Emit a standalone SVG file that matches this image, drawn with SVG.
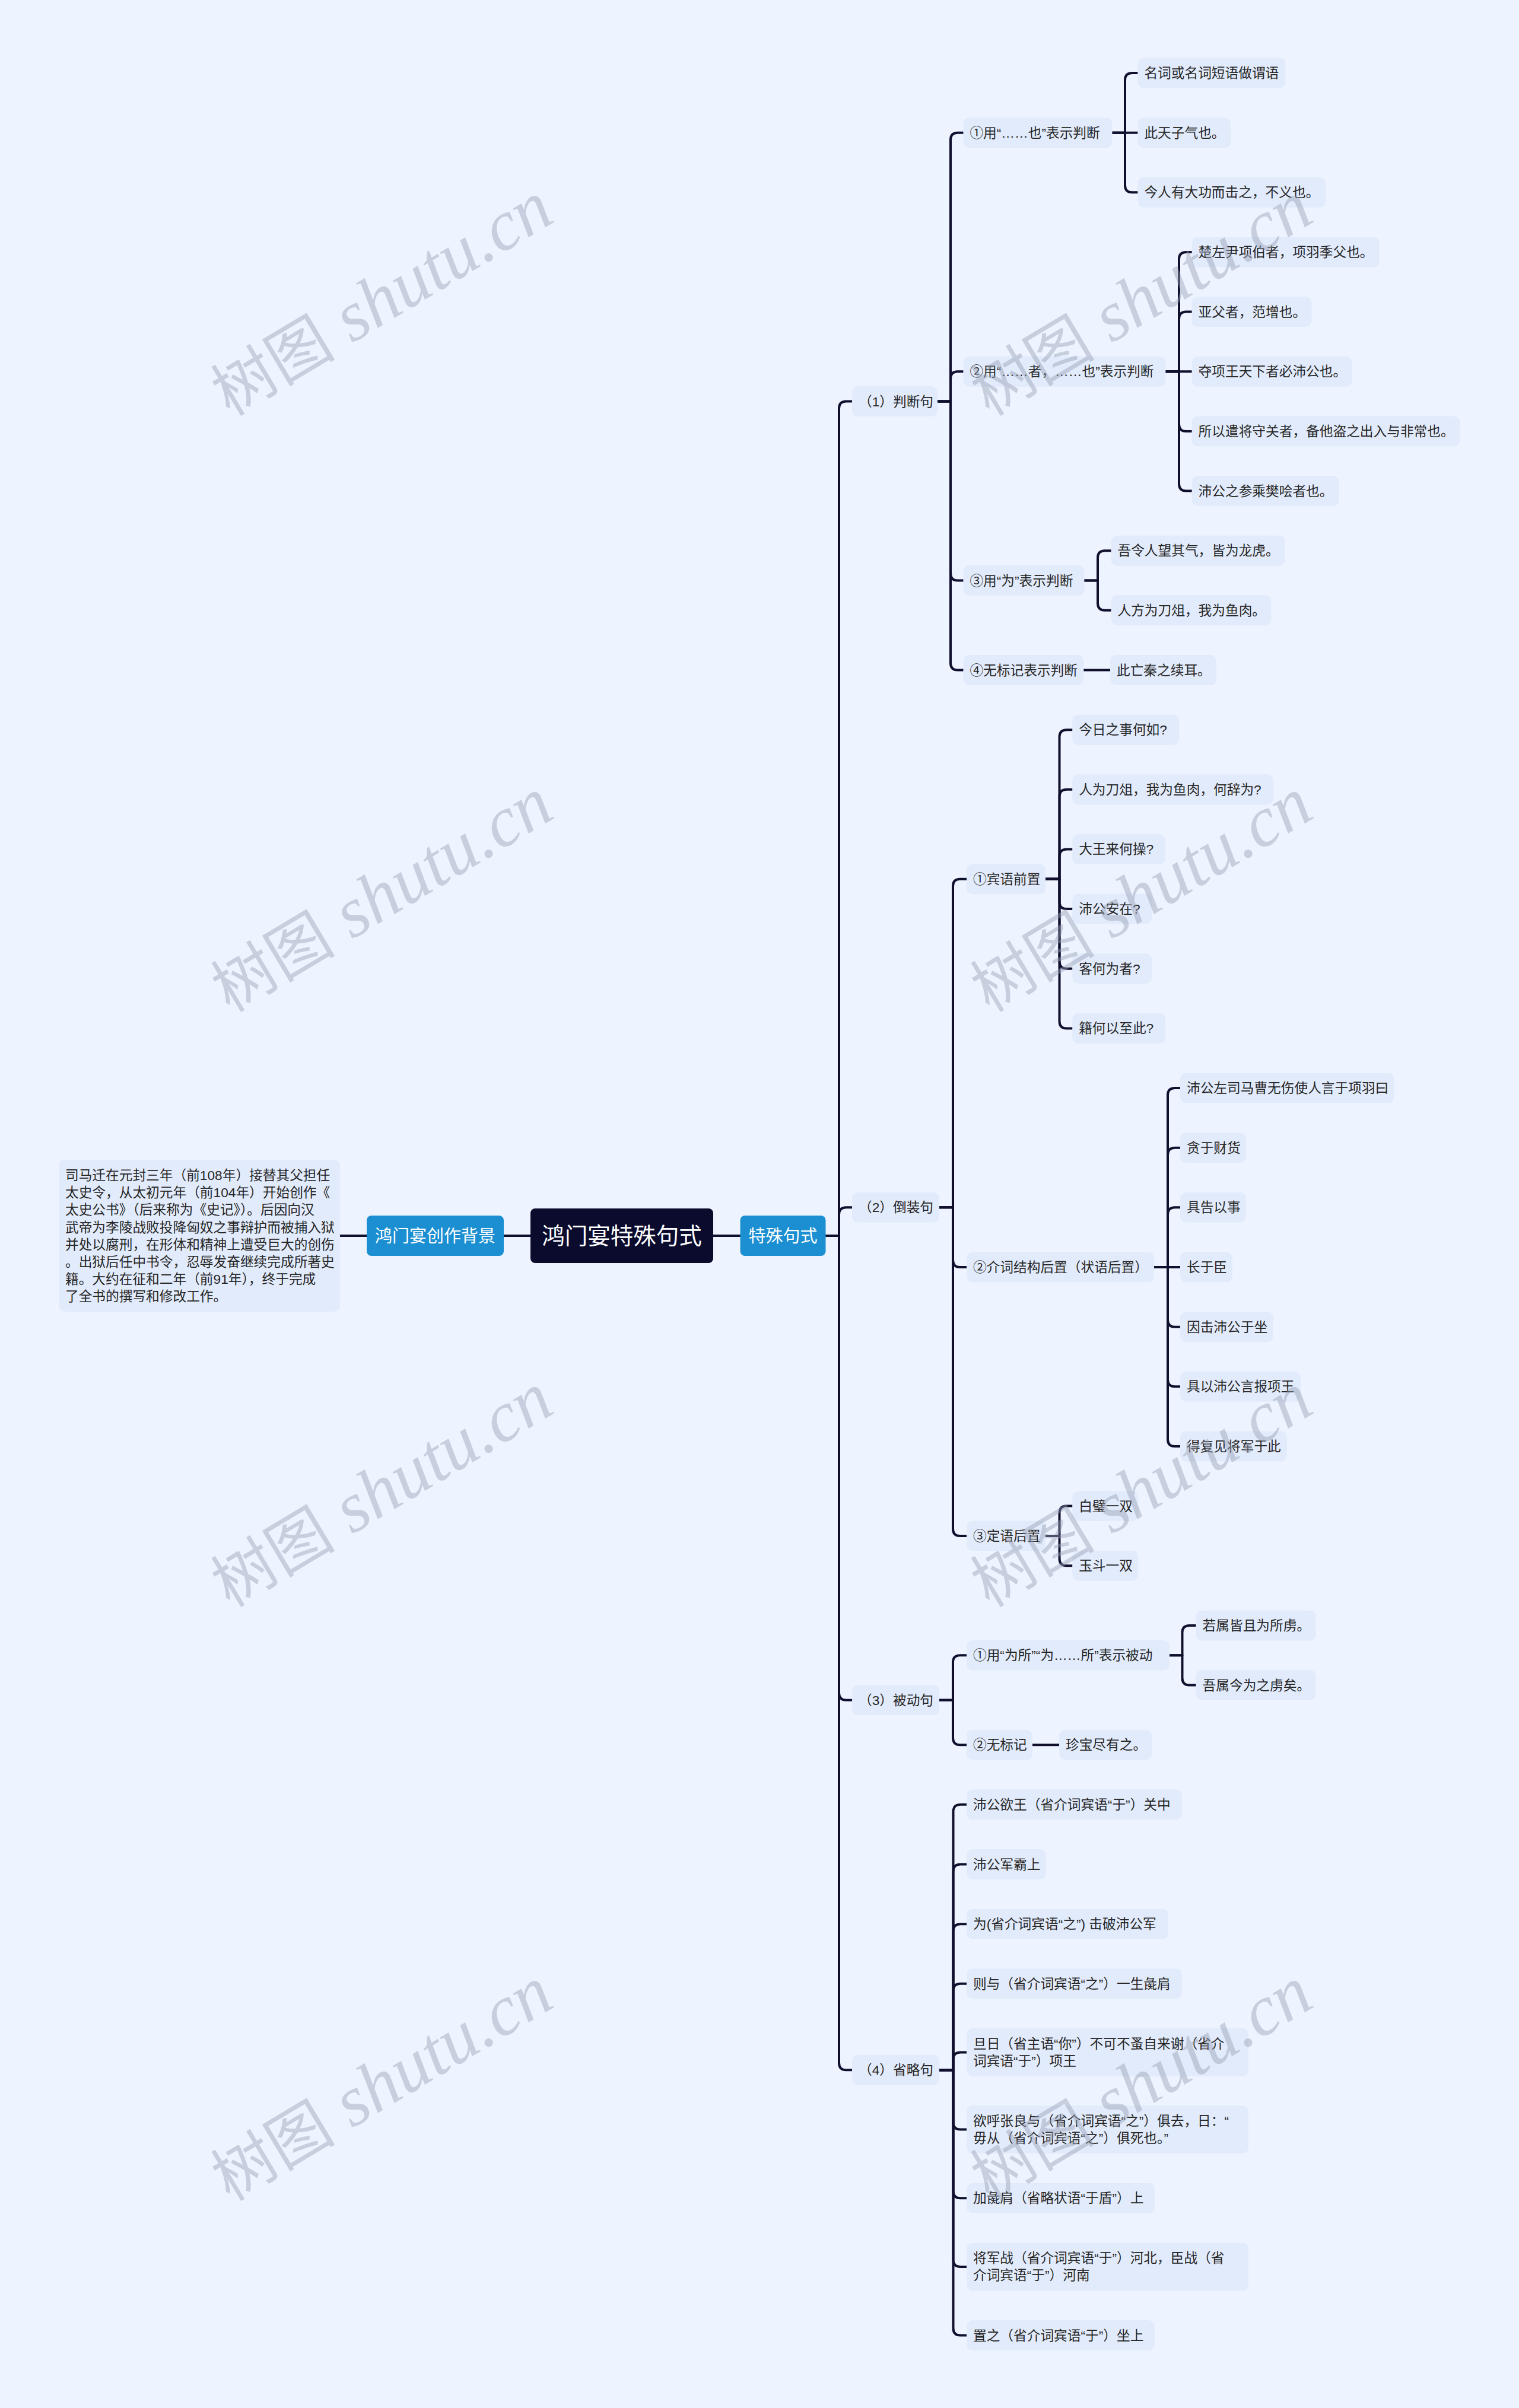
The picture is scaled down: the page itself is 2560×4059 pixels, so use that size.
<svg xmlns="http://www.w3.org/2000/svg" width="2560" height="4059" viewBox="0 0 2560 4059">
<style>
.bgc{fill:#eef4ff}
.box{fill:#e2ebfb}
.blue{fill:#1b8fd2}
.root{fill:#0b0b2e}
.t{font-family:"Liberation Sans","Noto Sans CJK SC",sans-serif;font-size:22.7px;fill:#262626}
.tw{font-family:"Liberation Sans","Noto Sans CJK SC",sans-serif;font-size:29px;fill:#ffffff;text-anchor:middle}
.tr{font-family:"Liberation Sans","Noto Sans CJK SC",sans-serif;font-size:38.5px;fill:#ffffff;text-anchor:middle}
.ln{fill:none;stroke:#10102e;stroke-width:4;stroke-linecap:round;stroke-linejoin:round}
.wm{font-family:"Liberation Serif",serif;font-style:italic;font-size:120px;fill:#96a0b4;fill-opacity:0.45;text-anchor:middle}
.wmc{font-family:"Noto Sans CJK SC",sans-serif;font-style:normal;font-size:105px}
</style>
<rect class="bgc" x="0" y="0" width="2560" height="4059"/>
<g id="connectors">
<path class="ln" d="M573 2083H618"/>
<path class="ln" d="M849 2083H894"/>
<path class="ln" d="M1202 2083H1247.5"/>
<path class="ln" d="M1391.5 2083H1414V688.6Q1414 676.6 1426 676.6H1436"/>
<path class="ln" d="M1391.5 2083H1414V2047.35Q1414 2035.35 1426 2035.35H1436"/>
<path class="ln" d="M1391.5 2083H1414V2853.7Q1414 2865.7 1426 2865.7H1436"/>
<path class="ln" d="M1391.5 2083H1414V3477.2Q1414 3489.2 1426 3489.2H1436"/>
<path class="ln" d="M1580 676.6H1602V235.65Q1602 223.65 1614 223.65H1623.4"/>
<path class="ln" d="M1580 676.6H1602V638.25Q1602 626.25 1614 626.25H1623.4"/>
<path class="ln" d="M1580 676.6H1602V966.5Q1602 978.5 1614 978.5H1623.4"/>
<path class="ln" d="M1580 676.6H1602V1117.5Q1602 1129.5 1614 1129.5H1623.4"/>
<path class="ln" d="M1874.4 223.65H1896V135Q1896 123 1908 123H1917.4"/>
<path class="ln" d="M1874.4 223.65H1917.4"/>
<path class="ln" d="M1874.4 223.65H1896V312.3Q1896 324.3 1908 324.3H1917.4"/>
<path class="ln" d="M1964.4 626.25H1987V436.95Q1987 424.95 1999 424.95H2008.6"/>
<path class="ln" d="M1964.4 626.25H1987V537.6Q1987 525.6 1999 525.6H2008.6"/>
<path class="ln" d="M1964.4 626.25H2008.6"/>
<path class="ln" d="M1964.4 626.25H1987V714.9Q1987 726.9 1999 726.9H2008.6"/>
<path class="ln" d="M1964.4 626.25H1987V815.55Q1987 827.55 1999 827.55H2008.6"/>
<path class="ln" d="M1827.4 978.5H1850V940.2Q1850 928.2 1862 928.2H1872.5"/>
<path class="ln" d="M1827.4 978.5H1850V1016.85Q1850 1028.85 1862 1028.85H1872.5"/>
<path class="ln" d="M1826.4 1129.5H1871"/>
<path class="ln" d="M1583 2035.35H1606V1493.8Q1606 1481.8 1618 1481.8H1629"/>
<path class="ln" d="M1583 2035.35H1606V2124Q1606 2136 1618 2136H1629"/>
<path class="ln" d="M1583 2035.35H1606V2576.9Q1606 2588.9 1618 2588.9H1629"/>
<path class="ln" d="M1762 1481.8H1785.5V1242.15Q1785.5 1230.15 1797.5 1230.15H1807.2"/>
<path class="ln" d="M1762 1481.8H1785.5V1342.8Q1785.5 1330.8 1797.5 1330.8H1807.2"/>
<path class="ln" d="M1762 1481.8H1785.5V1443.45Q1785.5 1431.45 1797.5 1431.45H1807.2"/>
<path class="ln" d="M1762 1481.8H1785.5V1520.1Q1785.5 1532.1 1797.5 1532.1H1807.2"/>
<path class="ln" d="M1762 1481.8H1785.5V1620.75Q1785.5 1632.75 1797.5 1632.75H1807.2"/>
<path class="ln" d="M1762 1481.8H1785.5V1721.4Q1785.5 1733.4 1797.5 1733.4H1807.2"/>
<path class="ln" d="M1945 2136H1968V1846.05Q1968 1834.05 1980 1834.05H1989"/>
<path class="ln" d="M1945 2136H1968V1946.7Q1968 1934.7 1980 1934.7H1989"/>
<path class="ln" d="M1945 2136H1968V2047.35Q1968 2035.35 1980 2035.35H1989"/>
<path class="ln" d="M1945 2136H1989"/>
<path class="ln" d="M1945 2136H1968V2224.65Q1968 2236.65 1980 2236.65H1989"/>
<path class="ln" d="M1945 2136H1968V2325.3Q1968 2337.3 1980 2337.3H1989"/>
<path class="ln" d="M1945 2136H1968V2425.95Q1968 2437.95 1980 2437.95H1989"/>
<path class="ln" d="M1762 2588.9H1785.5V2550.6Q1785.5 2538.6 1797.5 2538.6H1807.2"/>
<path class="ln" d="M1762 2588.9H1785.5V2627.25Q1785.5 2639.25 1797.5 2639.25H1807.2"/>
<path class="ln" d="M1583 2865.7H1606V2802.2Q1606 2790.2 1618 2790.2H1629"/>
<path class="ln" d="M1583 2865.7H1606V2929.2Q1606 2941.2 1618 2941.2H1629"/>
<path class="ln" d="M1971 2790.2H1992.5V2751.9Q1992.5 2739.9 2004.5 2739.9H2015.6"/>
<path class="ln" d="M1971 2790.2H1992.5V2828.55Q1992.5 2840.55 2004.5 2840.55H2015.6"/>
<path class="ln" d="M1740 2941.2H1785"/>
<path class="ln" d="M1583 3489.2H1606.5V3053.85Q1606.5 3041.85 1618.5 3041.85H1629"/>
<path class="ln" d="M1583 3489.2H1606.5V3154.5Q1606.5 3142.5 1618.5 3142.5H1629"/>
<path class="ln" d="M1583 3489.2H1606.5V3255.15Q1606.5 3243.15 1618.5 3243.15H1629"/>
<path class="ln" d="M1583 3489.2H1606.5V3355.8Q1606.5 3343.8 1618.5 3343.8H1629"/>
<path class="ln" d="M1583 3489.2H1606.5V3471.45Q1606.5 3459.45 1618.5 3459.45H1629"/>
<path class="ln" d="M1583 3489.2H1606.5V3577.6Q1606.5 3589.6 1618.5 3589.6H1629"/>
<path class="ln" d="M1583 3489.2H1606.5V3693.25Q1606.5 3705.25 1618.5 3705.25H1629"/>
<path class="ln" d="M1583 3489.2H1606.5V3808.9Q1606.5 3820.9 1618.5 3820.9H1629"/>
<path class="ln" d="M1583 3489.2H1606.5V3924.5Q1606.5 3936.5 1618.5 3936.5H1629"/>
</g>
<g id="root"><rect class="root" x="894" y="2037" width="308" height="92" rx="8"/><text class="tr" x="1048" y="2097">鸿门宴特殊句式</text></g>
<g id="bg-title"><rect class="blue" x="618" y="2049" width="231" height="68" rx="8"/><text class="tw" x="733.5" y="2094">鸿门宴创作背景</text></g>
<g id="bg-text"><rect class="box" x="99" y="1955" width="474" height="256" rx="10"/>
<text class="t"><tspan x="110" y="1989">司马迁在元封三年（前108年）接替其父担任</tspan><tspan x="110" y="2018.2">太史令，从太初元年（前104年）开始创作《</tspan><tspan x="110" y="2047.4">太史公书》（后来称为《史记》）。后因向汉</tspan><tspan x="110" y="2076.6">武帝为李陵战败投降匈奴之事辩护而被捕入狱</tspan><tspan x="110" y="2105.8">并处以腐刑，在形体和精神上遭受巨大的创伤</tspan><tspan x="110" y="2135">。出狱后任中书令，忍辱发奋继续完成所著史</tspan><tspan x="110" y="2164.2">籍。大约在征和二年（前91年），终于完成</tspan><tspan x="110" y="2193.4">了全书的撰写和修改工作。</tspan></text></g>
<g id="tsjs"><rect class="blue" x="1247.5" y="2049" width="144" height="68" rx="8"/><text class="tw" x="1319.5" y="2094">特殊句式</text></g>
<g id="l1-1"><rect class="box" x="1436" y="651.1" width="144" height="51" rx="10"/><text class="t" x="1447" y="684.6">（1）判断句</text></g>
<g id="l1-2"><rect class="box" x="1436" y="2009.85" width="147" height="51" rx="10"/><text class="t" x="1447" y="2043.35">（2）倒装句</text></g>
<g id="l1-3"><rect class="box" x="1436" y="2840.2" width="147" height="51" rx="10"/><text class="t" x="1447" y="2873.7">（3）被动句</text></g>
<g id="l1-4"><rect class="box" x="1436" y="3463.7" width="147" height="51" rx="10"/><text class="t" x="1447" y="3497.2">（4）省略句</text></g>
<g id="a1"><rect class="box" x="1623.4" y="198.15" width="251" height="51" rx="10"/><text class="t" x="1634.4" y="231.65">①用“……也”表示判断</text></g>
<g id="a2"><rect class="box" x="1623.4" y="600.75" width="341" height="51" rx="10"/><text class="t" x="1634.4" y="634.25">②用“……者，……也”表示判断</text></g>
<g id="a3"><rect class="box" x="1623.4" y="953" width="204" height="51" rx="10"/><text class="t" x="1634.4" y="986.5">③用“为”表示判断</text></g>
<g id="a4"><rect class="box" x="1623.4" y="1104" width="203" height="51" rx="10"/><text class="t" x="1634.4" y="1137.5">④无标记表示判断</text></g>
<g id="k0"><rect class="box" x="1917.4" y="97.5" width="249" height="51" rx="10"/><text class="t" x="1928.4" y="131">名词或名词短语做谓语</text></g>
<g id="k1"><rect class="box" x="1917.4" y="198.15" width="157" height="51" rx="10"/><text class="t" x="1928.4" y="231.65">此天子气也。</text></g>
<g id="k2"><rect class="box" x="1917.4" y="298.8" width="317" height="51" rx="10"/><text class="t" x="1928.4" y="332.3">今人有大功而击之，不义也。</text></g>
<g id="k3"><rect class="box" x="2008.6" y="399.45" width="316" height="51" rx="10"/><text class="t" x="2019.6" y="432.95">楚左尹项伯者，项羽季父也。</text></g>
<g id="k4"><rect class="box" x="2008.6" y="500.1" width="202" height="51" rx="10"/><text class="t" x="2019.6" y="533.6">亚父者，范增也。</text></g>
<g id="k5"><rect class="box" x="2008.6" y="600.75" width="270" height="51" rx="10"/><text class="t" x="2019.6" y="634.25">夺项王天下者必沛公也。</text></g>
<g id="k6"><rect class="box" x="2008.6" y="701.4" width="452" height="51" rx="10"/><text class="t" x="2019.6" y="734.9">所以遣将守关者，备他盗之出入与非常也。</text></g>
<g id="k7"><rect class="box" x="2008.6" y="802.05" width="248" height="51" rx="10"/><text class="t" x="2019.6" y="835.55">沛公之参乘樊哙者也。</text></g>
<g id="k8"><rect class="box" x="1872.5" y="902.7" width="293" height="51" rx="10"/><text class="t" x="1883.5" y="936.2">吾令人望其气，皆为龙虎。</text></g>
<g id="k9"><rect class="box" x="1872.5" y="1003.35" width="270" height="51" rx="10"/><text class="t" x="1883.5" y="1036.85">人方为刀俎，我为鱼肉。</text></g>
<g id="k10"><rect class="box" x="1871" y="1104" width="179" height="51" rx="10"/><text class="t" x="1882" y="1137.5">此亡秦之续耳。</text></g>
<g id="b1"><rect class="box" x="1629" y="1456.3" width="133" height="51" rx="10"/><text class="t" x="1640" y="1489.8">①宾语前置</text></g>
<g id="b2"><rect class="box" x="1629" y="2110.5" width="316" height="51" rx="10"/><text class="t" x="1640" y="2144">②介词结构后置（状语后置）</text></g>
<g id="b3"><rect class="box" x="1629" y="2563.4" width="133" height="51" rx="10"/><text class="t" x="1640" y="2596.9">③定语后置</text></g>
<g id="k11"><rect class="box" x="1807.2" y="1204.65" width="180" height="51" rx="10"/><text class="t" x="1818.2" y="1238.15">今日之事何如?</text></g>
<g id="k12"><rect class="box" x="1807.2" y="1305.3" width="339" height="51" rx="10"/><text class="t" x="1818.2" y="1338.8">人为刀俎，我为鱼肉，何辞为?</text></g>
<g id="k13"><rect class="box" x="1807.2" y="1405.95" width="157" height="51" rx="10"/><text class="t" x="1818.2" y="1439.45">大王来何操?</text></g>
<g id="k14"><rect class="box" x="1807.2" y="1506.6" width="134" height="51" rx="10"/><text class="t" x="1818.2" y="1540.1">沛公安在?</text></g>
<g id="k15"><rect class="box" x="1807.2" y="1607.25" width="134" height="51" rx="10"/><text class="t" x="1818.2" y="1640.75">客何为者?</text></g>
<g id="k16"><rect class="box" x="1807.2" y="1707.9" width="157" height="51" rx="10"/><text class="t" x="1818.2" y="1741.4">籍何以至此?</text></g>
<g id="k17"><rect class="box" x="1989" y="1808.55" width="361" height="51" rx="10"/><text class="t" x="2000" y="1842.05">沛公左司马曹无伤使人言于项羽曰</text></g>
<g id="k18"><rect class="box" x="1989" y="1909.2" width="111" height="51" rx="10"/><text class="t" x="2000" y="1942.7">贪于财货</text></g>
<g id="k19"><rect class="box" x="1989" y="2009.85" width="111" height="51" rx="10"/><text class="t" x="2000" y="2043.35">具告以事</text></g>
<g id="k20"><rect class="box" x="1989" y="2110.5" width="88" height="51" rx="10"/><text class="t" x="2000" y="2144">长于臣</text></g>
<g id="k21"><rect class="box" x="1989" y="2211.15" width="157" height="51" rx="10"/><text class="t" x="2000" y="2244.65">因击沛公于坐</text></g>
<g id="k22"><rect class="box" x="1989" y="2311.8" width="203" height="51" rx="10"/><text class="t" x="2000" y="2345.3">具以沛公言报项王</text></g>
<g id="k23"><rect class="box" x="1989" y="2412.45" width="180" height="51" rx="10"/><text class="t" x="2000" y="2445.95">得复见将军于此</text></g>
<g id="k24"><rect class="box" x="1807.2" y="2513.1" width="111" height="51" rx="10"/><text class="t" x="1818.2" y="2546.6">白璧一双</text></g>
<g id="k25"><rect class="box" x="1807.2" y="2613.75" width="111" height="51" rx="10"/><text class="t" x="1818.2" y="2647.25">玉斗一双</text></g>
<g id="c1"><rect class="box" x="1629" y="2764.7" width="342" height="51" rx="10"/><text class="t" x="1640" y="2798.2">①用“为所”“为……所”表示被动</text></g>
<g id="c2"><rect class="box" x="1629" y="2915.7" width="111" height="51" rx="10"/><text class="t" x="1640" y="2949.2">②无标记</text></g>
<g id="k26"><rect class="box" x="2015.6" y="2714.4" width="202" height="51" rx="10"/><text class="t" x="2026.6" y="2747.9">若属皆且为所虏。</text></g>
<g id="k27"><rect class="box" x="2015.6" y="2815.05" width="202" height="51" rx="10"/><text class="t" x="2026.6" y="2848.55">吾属今为之虏矣。</text></g>
<g id="k28"><rect class="box" x="1785" y="2915.7" width="156" height="51" rx="10"/><text class="t" x="1796" y="2949.2">珍宝尽有之。</text></g>
<g id="d1"><rect class="box" x="1629" y="3016.35" width="363" height="51" rx="10"/><text class="t" x="1640" y="3049.85">沛公欲王（省介词宾语“于”）关中</text></g>
<g id="d2"><rect class="box" x="1629" y="3117" width="134" height="51" rx="10"/><text class="t" x="1640" y="3150.5">沛公军霸上</text></g>
<g id="d3"><rect class="box" x="1629" y="3217.65" width="340" height="51" rx="10"/><text class="t" x="1640" y="3251.15">为(省介词宾语“之”) 击破沛公军</text></g>
<g id="d4"><rect class="box" x="1629" y="3318.3" width="363" height="51" rx="10"/><text class="t" x="1640" y="3351.8">则与（省介词宾语“之”）一生彘肩</text></g>
<g id="d5"><rect class="box" x="1629" y="3418.95" width="475" height="81" rx="10"/><text class="t"><tspan x="1640" y="3452.95">旦日（省主语“你”）不可不蚤自来谢（省介</tspan><tspan x="1640" y="3481.95">词宾语“于”）项王</tspan></text></g>
<g id="d6"><rect class="box" x="1629" y="3549.1" width="475" height="81" rx="10"/><text class="t"><tspan x="1640" y="3583.1">欲呼张良与（省介词宾语“之”）俱去，日：“</tspan><tspan x="1640" y="3612.1">毋从（省介词宾语“之”）俱死也。”</tspan></text></g>
<g id="d7"><rect class="box" x="1629" y="3679.75" width="317" height="51" rx="10"/><text class="t" x="1640" y="3713.25">加彘肩（省略状语“于盾”）上</text></g>
<g id="d8"><rect class="box" x="1629" y="3780.4" width="475" height="81" rx="10"/><text class="t"><tspan x="1640" y="3814.4">将军战（省介词宾语“于”）河北，臣战（省</tspan><tspan x="1640" y="3843.4">介词宾语“于”）河南</tspan></text></g>
<g id="d9"><rect class="box" x="1629" y="3911" width="317" height="51" rx="10"/><text class="t" x="1640" y="3944.5">置之（省介词宾语“于”）坐上</text></g>
<g id="watermarks">
<text class="wm" transform="translate(645 507) rotate(-31)" x="0" y="35"><tspan class="wmc">树图</tspan> shutu.cn</text>
<text class="wm" transform="translate(1925 507) rotate(-31)" x="0" y="35"><tspan class="wmc">树图</tspan> shutu.cn</text>
<text class="wm" transform="translate(645 1512) rotate(-31)" x="0" y="35"><tspan class="wmc">树图</tspan> shutu.cn</text>
<text class="wm" transform="translate(1925 1512) rotate(-31)" x="0" y="35"><tspan class="wmc">树图</tspan> shutu.cn</text>
<text class="wm" transform="translate(645 2515) rotate(-31)" x="0" y="35"><tspan class="wmc">树图</tspan> shutu.cn</text>
<text class="wm" transform="translate(1925 2515) rotate(-31)" x="0" y="35"><tspan class="wmc">树图</tspan> shutu.cn</text>
<text class="wm" transform="translate(645 3516) rotate(-31)" x="0" y="35"><tspan class="wmc">树图</tspan> shutu.cn</text>
<text class="wm" transform="translate(1925 3516) rotate(-31)" x="0" y="35"><tspan class="wmc">树图</tspan> shutu.cn</text>
</g>
</svg>
